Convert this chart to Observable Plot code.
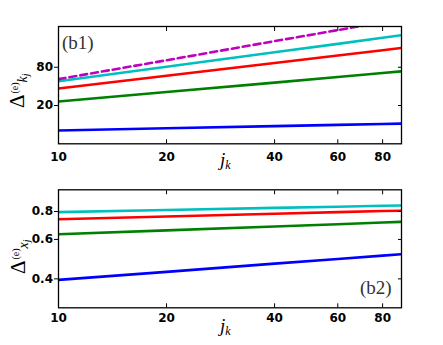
<!DOCTYPE html>
<html><head><meta charset="utf-8">
<script src="https://cdn.jsdelivr.net/npm/d3@7"></script>
<script src="https://cdn.jsdelivr.net/npm/@observablehq/plot@0.6"></script>
<style>
body{margin:0;background:#fff;}
#c{position:relative;width:443px;height:345px;overflow:hidden;}
#c svg{position:absolute;left:0;}
</style></head><body><div id="c"></div>
<script>
// x values (j_k) at which the curves were read
const jk = [10, 20, 40, 60, 80, 90];
// panel (b1): Δ^(e)_{k_j}
const kBlue    = [8.1, 8.76, 9.47, 9.91, 10.24, 10.4];
const kGreen   = [23.1, 32.6, 45.9, 56.2, 64.9, 69];
const kRed     = [37, 58.8, 93.4, 122.8, 148.5, 161];
const kCyan    = [48.2, 81.5, 137.8, 186.5, 233, 255];
const kMagenta = [52, 103, 206, 307, 408, 458];
// panel (b2): Δ^(e)_{x_j}
const xBlue  = [0.396, 0.430, 0.468, 0.491, 0.508, 0.515];
const xGreen = [0.633, 0.659, 0.686, 0.702, 0.714, 0.719];
const xRed   = [0.739, 0.760, 0.781, 0.795, 0.804, 0.806];
const xCyan  = [0.795, 0.812, 0.830, 0.840, 0.848, 0.851];
// tick labels
const xTicks = [10, 20, 40, 60, 80];
const kTicks = [20, 80];
const xjTicks = [0.4, 0.6, 0.8];

const colors = {blue:"#0000ff", green:"#008000", red:"#ff0000", cyan:"#00bfbf", magenta:"#bf00bf"};
const tickFont = {fontFamily:"DejaVu Sans", fontSize:12, fontWeight:"bold", fill:"black"};

function panel({series, yDomain, yTicks, yFormat, height, marginTop, marginBottom, xPad}) {
  const marks = series.map(s => Plot.line(jk.map((x, i) => ({x, y: s.values[i]})), {
    x: "x", y: "y", stroke: s.color, strokeWidth: 2.6, strokeDasharray: s.dash, clip: true
  }));
  marks.push(
    Plot.frame({stroke: "black", strokeWidth: 1.3}),
    Plot.axisX(xTicks, {anchor: "bottom", tickSize: -4, fill: "none", stroke: "black", label: null}),
    Plot.axisX(xTicks, {anchor: "top", tickSize: -4, fill: "none", stroke: "black", label: null}),
    Plot.axisY(yTicks, {anchor: "left", tickSize: 4, fill: "none", stroke: "black", label: null}),
    Plot.axisY(yTicks, {anchor: "right", tickSize: -4, fill: "none", stroke: "black", label: null}),
    Plot.text(xTicks, {x: d => d, frameAnchor: "bottom", dy: xPad, lineAnchor: "top", text: d => String(d), ...tickFont}),
    Plot.text(yTicks, {y: d => d, frameAnchor: "left", dx: -5.5, textAnchor: "end", text: yFormat, ...tickFont})
  );
  return Plot.plot({
    width: 443, height, marginTop, marginBottom, marginLeft: 58, marginRight: 42,
    style: {background: "white", overflow: "visible"},
    x: {type: "log", domain: [10, 90.3], axis: null},
    y: {type: "log", domain: yDomain, axis: null},
    marks
  });
}

function ylab(svg, x, y, sub) {
  const t = d3.select(svg).append("text")
    .attr("transform", `translate(${x},${y}) rotate(-90)`)
    .attr("text-anchor", "start")
    .attr("font-family", "Liberation Serif").attr("fill", "black");
  t.append("tspan").attr("font-size", 21).text("Δ");
  t.append("tspan").attr("font-size", 10).attr("dy", -6).attr("dx", 1).text("(e)");
  t.append("tspan").attr("font-size", 14).attr("font-style", "italic").attr("dy", 9).text(sub);
  t.append("tspan").attr("font-size", 10).attr("font-style", "italic").attr("dy", 2).text("j");
}
function xlab(svg, x, y) {
  const t = d3.select(svg).append("text").attr("x", x).attr("y", y)
    .attr("text-anchor", "start")
    .attr("font-family", "Liberation Serif").attr("font-style", "italic").attr("fill", "black");
  t.append("tspan").attr("font-size", 19).text("j");
  t.append("tspan").attr("font-size", 12).attr("dy", 3).text("k");
}
function tag(svg, x, y, s) {
  d3.select(svg).append("text").attr("x", x).attr("y", y).attr("text-anchor", "start")
    .attr("font-family", "Liberation Serif").attr("font-size", 19).attr("fill", "#333").text(s);
}

const topPanel = panel({
  series: [
    {values: kBlue, color: colors.blue},
    {values: kGreen, color: colors.green},
    {values: kRed, color: colors.red},
    {values: kCyan, color: colors.cyan},
    {values: kMagenta, color: colors.magenta, dash: "7,4"}
  ],
  yDomain: [5, 350], yTicks: kTicks, yFormat: d => String(d),
  height: 180, marginTop: 26, marginBottom: 36.7, xPad: 8.5
});
topPanel.style.top = "0px";
ylab(topPanel, 24, 108, "k");
xlab(topPanel, 220, 166);
tag(topPanel, 62, 49, "(b1)");

const botPanel = panel({
  series: [
    {values: xBlue, color: colors.blue},
    {values: xGreen, color: colors.green},
    {values: xRed, color: colors.red},
    {values: xCyan, color: colors.cyan}
  ],
  yDomain: [0.297, 1], yTicks: xjTicks, yFormat: d3.format(".1f"),
  height: 165, marginTop: 9.3, marginBottom: 37.7, xPad: 5.5
});
botPanel.style.top = "180px";
ylab(botPanel, 25, 94, "x");
xlab(botPanel, 220, 152);
tag(botPanel, 360, 114, "(b2)");

document.getElementById("c").append(topPanel, botPanel);
</script></body></html>
